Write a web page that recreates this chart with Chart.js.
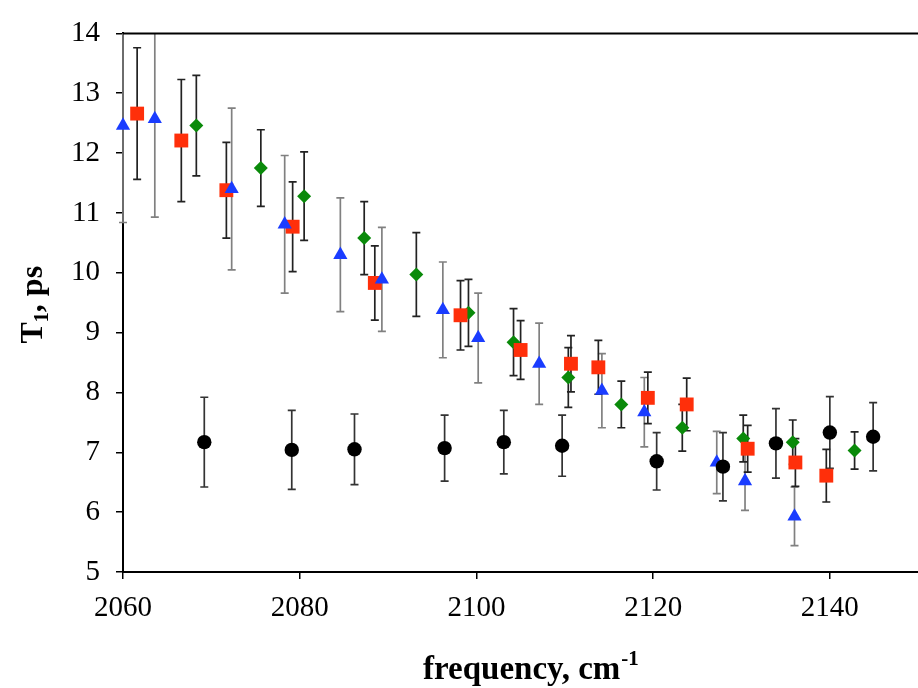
<!DOCTYPE html>
<html>
<head>
<meta charset="utf-8">
<script src="https://cdn.jsdelivr.net/npm/chart.js@4"></script>
<style>
  body { margin: 0; background: #fff; }
  #wrap { width: 918px; height: 688px; overflow: hidden; }
</style>
</head>
<body>
<div id="wrap"><canvas id="t1Chart" width="928" height="688"></canvas></div>
<script>
// frequency (cm-1), T1 (ps) and error for each series
const triX = [2060.0, 2063.6, 2072.3, 2078.3, 2084.6, 2089.3, 2096.2, 2100.2, 2107.1, 2114.2, 2119.0, 2127.2, 2130.4, 2136.0];
const triY = [12.46, 12.57, 11.40, 10.81, 10.30, 9.89, 9.38, 8.91, 8.48, 8.03, 7.67, 6.83, 6.52, 5.93];
const triErr = [1.62, 1.64, 1.35, 1.15, 0.95, 0.87, 0.80, 0.75, 0.68, 0.62, 0.58, 0.52, 0.49, 0.49];

const sqX = [2061.6, 2066.6, 2071.7, 2079.2, 2088.5, 2098.2, 2105.0, 2110.7, 2113.8, 2119.4, 2123.8, 2130.7, 2136.1, 2139.6];
const sqY = [12.66, 12.21, 11.38, 10.77, 9.83, 9.29, 8.71, 8.48, 8.42, 7.91, 7.80, 7.06, 6.83, 6.61];
const sqErr = [1.10, 1.02, 0.80, 0.75, 0.62, 0.58, 0.49, 0.47, 0.45, 0.43, 0.44, 0.39, 0.40, 0.44];

const diaX = [2068.3, 2075.6, 2080.5, 2087.3, 2093.2, 2099.1, 2104.2, 2110.4, 2116.4, 2123.3, 2130.2, 2135.8, 2142.8];
const diaY = [12.46, 11.75, 11.28, 10.58, 9.97, 9.33, 8.84, 8.25, 7.80, 7.41, 7.23, 7.17, 7.03];
const diaErr = [0.84, 0.64, 0.74, 0.61, 0.70, 0.56, 0.56, 0.50, 0.39, 0.39, 0.39, 0.37, 0.31];

const circX = [2069.2, 2079.1, 2086.2, 2096.4, 2103.1, 2109.7, 2120.4, 2127.9, 2133.9, 2140.0, 2144.9];
const circY = [7.17, 7.04, 7.05, 7.07, 7.17, 7.11, 6.85, 6.76, 7.15, 7.33, 7.26];
const circErr = [0.75, 0.66, 0.59, 0.55, 0.53, 0.51, 0.48, 0.57, 0.58, 0.60, 0.57];

const xTicks = [2060, 2080, 2100, 2120, 2140];

const SERIF = "'Liberation Serif', 'Times New Roman', serif";

function points(xs, ys, errs) {
    return xs.map((x, i) => ({ x, y: ys[i], err: errs[i] }));
}

// vertical error bars with small caps, drawn under the markers
const errorBars = {
    id: 'errorBars',
    beforeDatasetsDraw(chart) {
        const { ctx, chartArea, scales: { x, y } } = chart;
        ctx.save();
        ctx.beginPath();
        ctx.rect(chartArea.left - 20, chartArea.top, chartArea.right - chartArea.left + 40, chartArea.bottom - chartArea.top);
        ctx.clip();
        chart.data.datasets.forEach(ds => {
            ctx.strokeStyle = ds.errorColor;
            ctx.lineWidth = 1.7;
            ds.data.forEach(p => {
                const px = x.getPixelForValue(p.x);
                const top = y.getPixelForValue(p.y + p.err);
                const bot = y.getPixelForValue(p.y - p.err);
                ctx.beginPath();
                ctx.moveTo(px, top);
                ctx.lineTo(px, bot);
                ctx.moveTo(px - 4, top);
                ctx.lineTo(px + 4, top);
                ctx.moveTo(px - 4, bot);
                ctx.lineTo(px + 4, bot);
                ctx.stroke();
            });
        });
        ctx.restore();
    }
};

// top frame line and the axis titles (with sub/superscripts)
const frameAndTitles = {
    id: 'frameAndTitles',
    afterDraw(chart) {
        const { ctx, chartArea } = chart;
        ctx.save();
        ctx.strokeStyle = '#000';
        ctx.lineWidth = 2;
        ctx.beginPath();
        ctx.moveTo(chartArea.left, chartArea.top);
        ctx.lineTo(chartArea.right, chartArea.top);
        ctx.stroke();

        ctx.fillStyle = '#000';
        ctx.textBaseline = 'alphabetic';

        // x title: "frequency, cm-1"
        const big = 'bold 33px ' + SERIF;
        const small = 'bold 21px ' + SERIF;
        ctx.font = big;
        const main = 'frequency, cm';
        const w1 = ctx.measureText(main).width;
        ctx.font = big;
        ctx.fillText(main, 423, 679);
        ctx.font = small;
        ctx.fillText('-1', 423 + w1 + 1, 665);

        // y title: "T1, ps", rotated
        const yBig = 'bold 32px ' + SERIF;
        const ySmall = 'bold 20px ' + SERIF;
        ctx.translate(42, (chartArea.top + chartArea.bottom) / 2 + 2);
        ctx.rotate(-Math.PI / 2);
        ctx.font = yBig;
        const tW = ctx.measureText('T').width;
        const restW = ctx.measureText(', ps').width;
        ctx.font = ySmall;
        const subW = ctx.measureText('1').width;
        let s = -(tW + subW + restW) / 2;
        ctx.font = yBig;
        ctx.fillText('T', s, 0);
        ctx.font = ySmall;
        ctx.fillText('1', s + tW, 6);
        ctx.font = yBig;
        ctx.fillText(', ps', s + tW + subW, 0);
        ctx.restore();
    }
};

const ctx = document.getElementById('t1Chart').getContext('2d');

new Chart(ctx, {
    type: 'scatter',
    data: {
        datasets: [
            {
                label: 'circles',
                data: points(circX, circY, circErr),
                pointStyle: 'circle',
                pointRadius: 7.2,
                backgroundColor: '#000',
                borderColor: '#000',
                borderWidth: 0,
                errorColor: '#333',
                clip: false
            },
            {
                label: 'triangles',
                data: points(triX, triY, triErr),
                pointStyle: 'triangle',
                pointRadius: 8.2,
                backgroundColor: '#1a3cff',
                borderColor: '#1a3cff',
                borderWidth: 0,
                errorColor: '#808080',
                clip: false
            },
            {
                label: 'squares',
                data: points(sqX, sqY, sqErr),
                pointStyle: 'rect',
                pointRadius: 9.8,
                backgroundColor: '#ff2f0a',
                borderColor: '#ff2f0a',
                borderWidth: 0,
                errorColor: '#222',
                clip: false
            },
            {
                label: 'diamonds',
                data: points(diaX, diaY, diaErr),
                pointStyle: 'rectRot',
                pointRadius: 7,
                backgroundColor: '#0a8a0a',
                borderColor: '#0a8a0a',
                borderWidth: 0,
                errorColor: '#222',
                clip: false
            }
        ]
    },
    options: {
        responsive: false,
        animation: false,
        devicePixelRatio: 1,
        events: [],
        layout: { padding: { left: 0, top: 21, right: 0, bottom: 0 } },
        plugins: {
            legend: { display: false },
            tooltip: { enabled: false }
        },
        scales: {
            x: {
                type: 'linear',
                min: 2060,
                max: 2150,
                afterBuildTicks: scale => {
                    scale.ticks = xTicks.map(v => ({ value: v }));
                },
                afterFit: scale => { scale.height = 116; },
                border: { display: true, color: '#000', width: 2 },
                grid: { drawOnChartArea: false, drawTicks: true, tickLength: 7, color: '#000', lineWidth: 1.5 },
                ticks: {
                    color: '#000',
                    padding: 12,
                    maxRotation: 0,
                    callback: v => String(v),
                    font: { family: SERIF, size: 29 }
                }
            },
            y: {
                type: 'linear',
                min: 5,
                max: 14,
                afterFit: scale => { scale.width = 123; },
                border: { display: true, color: '#000', width: 2 },
                grid: { drawOnChartArea: false, drawTicks: true, tickLength: 7, color: '#000', lineWidth: 1.5 },
                ticks: {
                    stepSize: 1,
                    color: '#000',
                    padding: 16,
                    font: { family: SERIF, size: 29 }
                }
            }
        }
    },
    plugins: [errorBars, frameAndTitles]
});
</script>
</body>
</html>
